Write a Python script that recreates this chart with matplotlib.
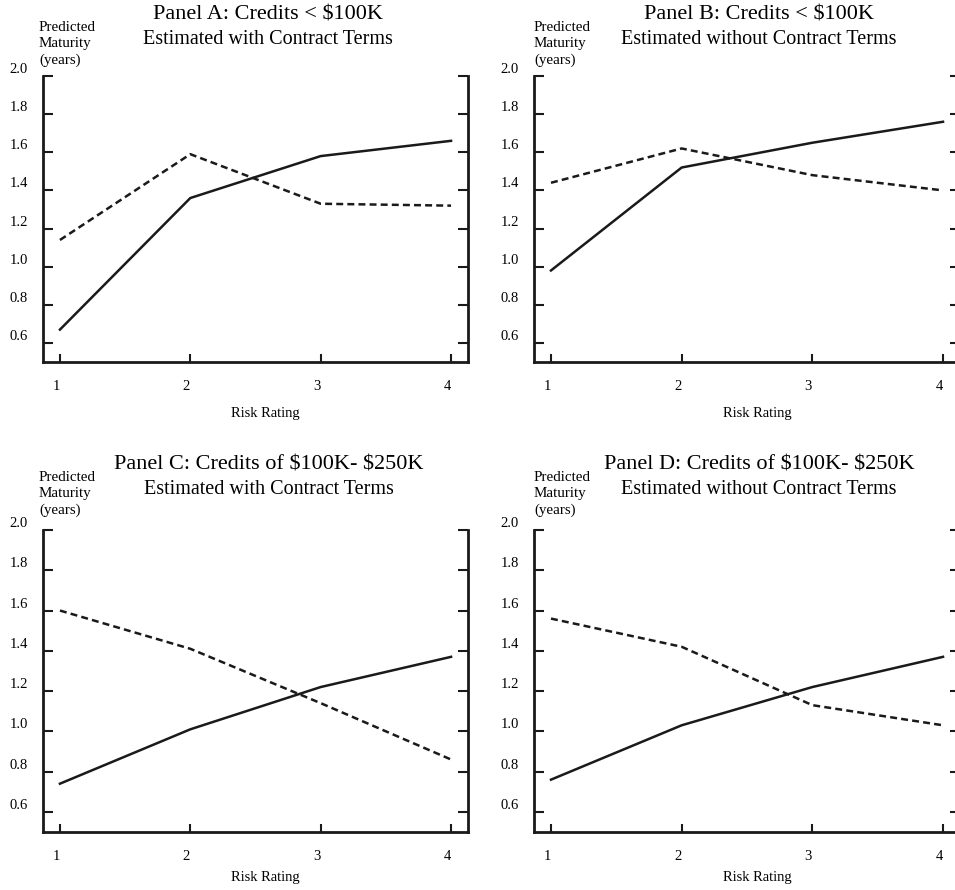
import matplotlib
matplotlib.use("Agg")
import matplotlib.pyplot as plt
from matplotlib.transforms import ScaledTranslation

# data (predicted maturity in years by risk rating)
risk_rating = [1, 2, 3, 4]
y_ticks = [0.6, 0.8, 1.0, 1.2, 1.4, 1.6, 1.8, 2.0]

panel_titles = [
    r"Panel A: Credits < \$100K",
    r"Panel B: Credits < \$100K",
    r"Panel C: Credits of \$100K- \$250K",
    r"Panel D: Credits of \$100K- \$250K",
]
panel_subtitles = [
    "Estimated with Contract Terms",
    "Estimated without Contract Terms",
    "Estimated with Contract Terms",
    "Estimated without Contract Terms",
]

solid_a = [0.67, 1.36, 1.58, 1.66]
dashed_a = [1.14, 1.59, 1.33, 1.32]
solid_b = [0.98, 1.52, 1.65, 1.76]
dashed_b = [1.44, 1.62, 1.48, 1.40]
solid_c = [0.74, 1.01, 1.22, 1.37]
dashed_c = [1.60, 1.41, 1.14, 0.86]
solid_d = [0.76, 1.03, 1.22, 1.37]
dashed_d = [1.56, 1.42, 1.13, 1.03]

solid_series = [solid_a, solid_b, solid_c, solid_d]
dashed_series = [dashed_a, dashed_b, dashed_c, dashed_d]

plt.rcParams["font.family"] = ["Liberation Serif", "DejaVu Serif"]
plt.rcParams["lines.scale_dashes"] = False

W, H = 955, 890
fig = plt.figure(figsize=(W / 100, H / 100), dpi=100)

# axes boxes in pixels: left, top, width, height
boxes = [
    (43, 76, 425, 286),
    (534, 76, 426, 286),
    (43, 530, 425, 302),
    (534, 530, 426, 302),
]
title_dx = [12, 12, 13, 12]
ylab_dx = [-4, 0, -4, 0]
xlab_dy = [-51, -51, -46, -46]

for i, (l, t, w, h) in enumerate(boxes):
    ax = fig.add_axes([l / W, (H - t - h) / H, w / W, h / H])
    ax.plot(risk_rating, solid_series[i], color="#1a1a1a", lw=1.8)
    ax.plot(risk_rating, dashed_series[i], color="#1a1a1a", lw=1.8, dashes=(5, 3))

    ax.set_xlim(0.87, 4.13)
    ax.set_ylim(0.5, 2.0)
    ax.spines["top"].set_visible(False)
    for s in ["left", "right", "bottom"]:
        ax.spines[s].set_linewidth(2.0)
        ax.spines[s].set_color("#1a1a1a")

    ax.set_xticks(risk_rating)
    ax.set_yticks(y_ticks)
    ax.set_yticklabels([f"{v:.1f}" for v in y_ticks])
    ax.set_yticks([2.0], minor=True)
    ax.tick_params(axis="y", which="major", direction="in", left=True, right=True,
                   length=7, width=1.5, pad=11, labelsize=10.5, color="#1a1a1a")
    ax.tick_params(axis="y", which="minor", direction="in", left=True, right=True,
                   length=13, width=1.5, color="#1a1a1a")
    ax.tick_params(axis="x", which="major", direction="in", length=6, width=1.5,
                   pad=13, labelsize=10.5, color="#1a1a1a")

    for lab in ax.get_yticklabels():
        lab.set_transform(lab.get_transform() + ScaledTranslation(0, 8 / 100, fig.dpi_scale_trans))
    for lab in ax.get_xticklabels():
        lab.set_transform(lab.get_transform() + ScaledTranslation(-4 / 100, 0, fig.dpi_scale_trans))

    cx = 0.5 + title_dx[i] / w
    ax.annotate(panel_titles[i], xy=(cx, 1), xycoords="axes fraction",
                xytext=(0, 61 if i < 2 else 65), textcoords="offset pixels",
                ha="center", va="center", fontsize=16)
    ax.annotate(panel_subtitles[i], xy=(cx, 1), xycoords="axes fraction",
                xytext=(0, 37 if i < 2 else 41), textcoords="offset pixels",
                ha="center", va="center", fontsize=14.5)
    ax.annotate("Predicted\nMaturity\n(years)", xy=(0, 1), xycoords="axes fraction",
                xytext=(ylab_dx[i], 55 if i < 2 else 59), textcoords="offset pixels",
                ha="left", va="top", fontsize=10.8, linespacing=1.3)
    ax.annotate("Risk Rating", xy=(0.5 + 10 / w, 0), xycoords="axes fraction",
                xytext=(0, xlab_dy[i]), textcoords="offset pixels",
                ha="center", va="center", fontsize=10.5)

fig.savefig("out.png", dpi=100)
